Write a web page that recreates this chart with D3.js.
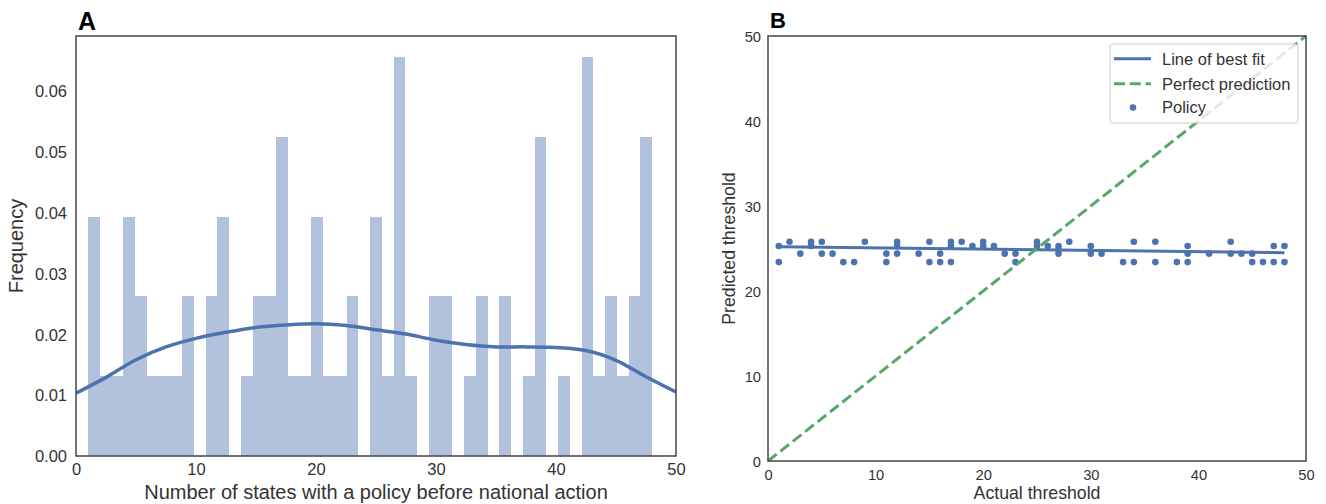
<!DOCTYPE html>
<html>
<head>
<meta charset="utf-8">
<script src="https://cdn.jsdelivr.net/npm/d3@7"></script>
<style>
  html, body { margin: 0; padding: 0; background: #fff; }
  svg { display: block; font-family: "Liberation Sans", Arial, sans-serif; }
</style>
</head>
<body>
<svg id="chart" width="1326" height="504"></svg>
<script>
// ---------------- Panel A data ----------------
const histRange = [1, 48];                 // data min / max of the histogram
const histCounts = [3,1,1,3,2,1,1,1,2,0,2,3,0,1,2,2,4,1,1,3,1,1,2,0,
                    3,1,5,1,0,2,2,0,1,2,0,2,0,1,4,0,1,0,5,1,2,1,2,4];
const kdeX = [0,2.5,5,7.5,10,12.5,15,17.5,20,22.5,25,27.5,30,32.5,35,37.5,40,42.5,45,47.5,50];
const kdeY = [0.0103,0.0129,0.0158,0.0179,0.0193,0.0203,0.0211,0.0215,0.0217,0.0214,0.0207,
              0.0200,0.0190,0.0183,0.0179,0.0179,0.0178,0.0173,0.0157,0.0130,0.0105];
const aYTicks = [0, 0.01, 0.02, 0.03, 0.04, 0.05, 0.06];
const aXTicks = [0, 10, 20, 30, 40, 50];

// ---------------- Panel B data ----------------
const actual = [1,1,2,3,4,4,5,5,6,7,8,9,11,11,12,12,12,14,15,15,16,16,17,17,17,18,19,20,20,21,22,23,23,
                25,25,26,27,27,27,28,30,30,31,33,34,34,36,36,38,39,39,39,41,43,43,44,45,45,46,47,47,48,48];
const predicted = [25.3,23.4,25.8,24.4,25.8,25.3,25.8,24.4,24.4,23.4,23.4,25.8,24.4,23.4,25.8,25.3,24.4,24.4,25.8,23.4,24.4,23.4,25.8,25.3,23.4,25.8,25.3,25.8,25.3,25.3,24.4,24.4,23.4,
                   25.8,25.3,25.3,25.3,24.9,24.4,25.8,25.3,24.4,24.4,23.4,25.8,23.4,25.8,23.4,23.4,25.3,24.4,23.4,24.4,25.8,24.4,24.4,24.4,23.4,23.4,25.3,23.4,25.3,23.4];
const fitX = [1, 48];
const fitY = [25.2, 24.5];
const perfectX = [0, 50];
const perfectY = [0, 50];
const bTicks = [0, 10, 20, 30, 40, 50];
const legendLabels = ["Line of best fit", "Perfect prediction", "Policy"];

// ---------------- styling ----------------
const BLUE = "#4c72b0", GREEN = "#55a868", SPINE = "#444", TXT = "#333";
const svg = d3.select("#chart");

// ================= Panel A =================
const A = {left: 76, top: 36, width: 600, height: 420};
const ax = d3.scaleLinear().domain([0, 50]).range([A.left, A.left + A.width]);
const ay = d3.scaleLinear().domain([0, 0.0689]).range([A.top + A.height, A.top]);
const gA = svg.append("g");

const nTotal = d3.sum(histCounts);
const binW = (histRange[1] - histRange[0]) / histCounts.length;
const bins = histCounts.map((c, i) => ({
  x0: histRange[0] + i * binW, x1: histRange[0] + (i + 1) * binW, d: c / (nTotal * binW)
}));
gA.append("g").selectAll("rect").data(bins.filter(b => b.d > 0)).join("rect")
  .attr("x", b => ax(b.x0)).attr("width", b => ax(b.x1) - ax(b.x0))
  .attr("y", b => ay(b.d)).attr("height", b => ay(0) - ay(b.d))
  .attr("shape-rendering", "crispEdges")
  .attr("fill", BLUE).attr("fill-opacity", 0.43);

gA.append("clipPath").attr("id", "clipA").append("rect")
  .attr("x", A.left).attr("y", A.top).attr("width", A.width).attr("height", A.height);
gA.append("path").datum(kdeX.map((x, i) => [x, kdeY[i]]))
  .attr("clip-path", "url(#clipA)")
  .attr("d", d3.line().x(d => ax(d[0])).y(d => ay(d[1])).curve(d3.curveCatmullRom))
  .attr("fill", "none").attr("stroke", BLUE).attr("stroke-width", 3.5);

gA.append("rect").attr("x", A.left).attr("y", A.top).attr("width", A.width).attr("height", A.height)
  .attr("fill", "none").attr("stroke", SPINE).attr("stroke-width", 1.5);

const axA = gA.append("g").attr("transform", `translate(0,${A.top + A.height})`)
  .call(d3.axisBottom(ax).tickValues(aXTicks).tickSize(0).tickPadding(0).tickFormat(d3.format("d")));
axA.select(".domain").remove();
axA.selectAll("text").attr("y", 19).attr("dy", 0).attr("font-size", 16.5).attr("fill", TXT)
  .attr("font-family", "Liberation Sans, Arial, sans-serif");
const ayA = gA.append("g").attr("transform", `translate(${A.left},0)`)
  .call(d3.axisLeft(ay).tickValues(aYTicks).tickSize(0).tickPadding(0).tickFormat(d3.format(".2f")));
ayA.select(".domain").remove();
ayA.selectAll("text").attr("x", -9).attr("dy", "0.36em").attr("font-size", 16.5).attr("fill", TXT)
  .attr("font-family", "Liberation Sans, Arial, sans-serif");

gA.append("text").attr("x", A.left + A.width / 2).attr("y", 499).attr("text-anchor", "middle")
  .attr("font-size", 20).attr("fill", TXT).text("Number of states with a policy before national action");
gA.append("text").attr("transform", `translate(23,${A.top + A.height / 2}) rotate(-90)`)
  .attr("text-anchor", "middle").attr("font-size", 20).attr("fill", TXT).text("Frequency");
gA.append("text").attr("x", 78).attr("y", 30).attr("font-size", 25).attr("font-weight", "bold")
  .attr("fill", "#000").text("A");

// ================= Panel B =================
const B = {left: 768, top: 36, width: 538, height: 425};
const bx = d3.scaleLinear().domain([0, 50]).range([B.left, B.left + B.width]);
const by = d3.scaleLinear().domain([0, 50]).range([B.top + B.height, B.top]);
const gB = svg.append("g");

gB.append("g").selectAll("circle").data(actual.map((x, i) => [x, predicted[i]])).join("circle")
  .attr("cx", d => bx(d[0])).attr("cy", d => by(d[1])).attr("r", 3.3).attr("fill", BLUE);
gB.append("path").datum(fitX.map((x, i) => [x, fitY[i]]))
  .attr("d", d3.line().x(d => bx(d[0])).y(d => by(d[1])))
  .attr("fill", "none").attr("stroke", BLUE).attr("stroke-width", 3);
gB.append("path").datum(perfectX.map((x, i) => [x, perfectY[i]]))
  .attr("d", d3.line().x(d => bx(d[0])).y(d => by(d[1])))
  .attr("fill", "none").attr("stroke", GREEN).attr("stroke-width", 3).attr("stroke-dasharray", "11,4.8");

gB.append("rect").attr("x", B.left).attr("y", B.top).attr("width", B.width).attr("height", B.height)
  .attr("fill", "none").attr("stroke", SPINE).attr("stroke-width", 1.5);

const axB = gB.append("g").attr("transform", `translate(0,${B.top + B.height})`)
  .call(d3.axisBottom(bx).tickValues(bTicks).tickSize(0).tickPadding(0).tickFormat(d3.format("d")));
axB.select(".domain").remove();
axB.selectAll("text").attr("y", 19).attr("dy", 0).attr("font-size", 14.7).attr("fill", TXT)
  .attr("font-family", "Liberation Sans, Arial, sans-serif");
const ayB = gB.append("g").attr("transform", `translate(${B.left},0)`)
  .call(d3.axisLeft(by).tickValues(bTicks).tickSize(0).tickPadding(0).tickFormat(d3.format("d")));
ayB.select(".domain").remove();
ayB.selectAll("text").attr("x", -7).attr("dy", "0.36em").attr("font-size", 14.7).attr("fill", TXT)
  .attr("font-family", "Liberation Sans, Arial, sans-serif");

gB.append("text").attr("x", B.left + B.width / 2).attr("y", 499).attr("text-anchor", "middle")
  .attr("font-size", 17.7).attr("fill", TXT).text("Actual threshold");
gB.append("text").attr("transform", `translate(735,${B.top + B.height / 2}) rotate(-90)`)
  .attr("text-anchor", "middle").attr("font-size", 17.7).attr("fill", TXT).text("Predicted threshold");
gB.append("text").attr("x", 770).attr("y", 28).attr("font-size", 22).attr("font-weight", "bold")
  .attr("fill", "#000").text("B");

// legend
const lg = gB.append("g");
lg.append("rect").attr("x", 1110).attr("y", 44).attr("width", 188).attr("height", 79).attr("rx", 3)
  .attr("fill", "#fff").attr("fill-opacity", 0.8).attr("stroke", "#ccc").attr("stroke-width", 1);
const rowY = [58.7, 83.7, 107.5];
lg.append("line").attr("x1", 1114).attr("x2", 1151).attr("y1", rowY[0]).attr("y2", rowY[0])
  .attr("stroke", BLUE).attr("stroke-width", 3);
lg.append("line").attr("x1", 1114).attr("x2", 1151).attr("y1", rowY[1]).attr("y2", rowY[1])
  .attr("stroke", GREEN).attr("stroke-width", 3).attr("stroke-dasharray", "11,4.8");
lg.append("circle").attr("cx", 1133).attr("cy", rowY[2]).attr("r", 3.3).attr("fill", BLUE);
lg.selectAll("text.lab").data(legendLabels).join("text").attr("class", "lab")
  .attr("x", 1162).attr("y", (d, i) => rowY[i]).attr("dy", "0.36em")
  .attr("font-size", 16.5).attr("fill", TXT).text(d => d);
</script>
</body>
</html>
